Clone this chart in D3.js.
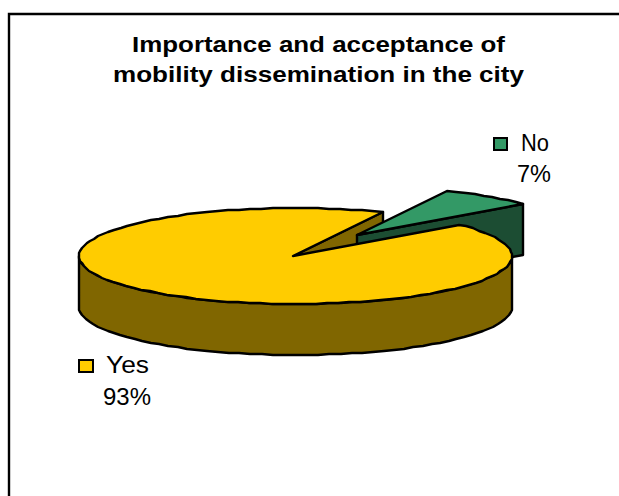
<!DOCTYPE html>
<html>
<head>
<meta charset="utf-8">
<script src="https://cdn.jsdelivr.net/npm/d3@7"></script>
<style>
html, body { margin: 0; padding: 0; background: #fff; }
svg { display: block; }
text { font-family: "Liberation Sans", Arial, sans-serif; fill: #000; }
</style>
</head>
<body>
<svg id="chart" width="619" height="496"></svg>
<script>
const categories = ["Yes", "No"];
const values = [93, 7];
const percentLabels = ["93%", "7%"];
const topColors = ["#FFCC00", "#339966"];
const wallColors = ["#806600", "#1C4D33"];
const titleLines = ["Importance and acceptance of", "mobility dissemination in the city"];

const svg = d3.select("#chart");
const deg = Math.PI / 180;

// Pie geometry: a flattened disc with the smaller slice pulled out.
const center = { x: 295.5, y: 256 };
const tip = { x: 293, y: 256 };
const radiusX = 216.5, radiusY = 48, depth = 51;
const explode = [{ x: 0, y: 0 }, { x: 64, y: -21 }];
const strokeWidth = 2.4;

// The frame shows only its left and top sides.
svg.append("path")
  .attr("d", d3.line()([[9, 496], [9, 14], [619, 14]]))
  .attr("fill", "none").attr("stroke", "#000").attr("stroke-width", 2.4);

const titleLayout = [{ y: 52, w: 373 }, { y: 82, w: 411 }];
svg.append("g").selectAll("text").data(titleLines).join("text")
  .attr("x", 318.5).attr("y", (d, i) => titleLayout[i].y)
  .attr("text-anchor", "middle")
  .attr("font-size", 22).attr("font-weight", "bold")
  .attr("textLength", (d, i) => titleLayout[i].w)
  .attr("lengthAdjust", "spacingAndGlyphs")
  .text(d => d);

const slices = d3.pie().sort(null).value(d => d)
  .startAngle(49 * deg).endAngle(409 * deg)(values);

// Angle is measured clockwise from the top of the disc; whole-pixel
// vertices give the outline its slightly stepped edge.
const rim = (a, o, dz = 0) => [
  Math.round(center.x + o.x + radiusX * Math.sin(a)),
  Math.round(center.y + o.y + dz - radiusY * Math.cos(a))
];
const arcPoints = (a0, a1, o, dz = 0) => {
  const n = Math.max(2, Math.ceil((a1 - a0) / (3 * deg)));
  return d3.range(n + 1).map(i => rim(a0 + (a1 - a0) * i / n, o, dz));
};
const apex = (o, dz = 0) => [tip.x + o.x, tip.y + o.y + dz];
const polyPath = d3.line().curve(d3.curveLinear);
const shape = (pts, fill, g) => g.append("path")
  .attr("d", polyPath(pts) + "Z")
  .attr("fill", fill).attr("stroke", "#000")
  .attr("stroke-width", strokeWidth).attr("stroke-linejoin", "round");

const pie = svg.append("g");
const [yes, no] = slices;
const oYes = explode[0], oNo = explode[1];

// Cut face of the large slice, seen through the gap.
shape([apex(oYes), rim(no.startAngle, oYes), rim(no.startAngle, oYes, depth), apex(oYes, depth)], wallColors[0], pie);

// Pulled-out slice: its wall first, then its top.
shape([apex(oNo), rim(no.endAngle, oNo), rim(no.endAngle, oNo, depth), apex(oNo, depth)], wallColors[1], pie);
shape([apex(oNo), ...arcPoints(no.startAngle, no.endAngle, oNo)], topColors[1], pie);

// Outer wall of the large slice, visible along the front of the disc.
const frontStart = 90 * deg, frontEnd = 270 * deg;
shape([...arcPoints(frontStart, frontEnd, oYes),
       ...arcPoints(frontStart, frontEnd, oYes, depth).reverse()], wallColors[0], pie);

// Top of the large slice.
shape([apex(oYes), ...arcPoints(yes.startAngle, yes.endAngle, oYes)], topColors[0], pie);

// Legend keys with their percentage labels.
const legend = [
  { key: [79, 360, 14, 12], name: [106, 373, 43], pct: [103, 405, 48] },
  { key: [494, 138, 13, 12], name: [521, 151, 28], pct: [517, 182, 34] }
];
const labels = svg.append("g");
legend.forEach((l, i) => {
  labels.append("rect")
    .attr("x", l.key[0]).attr("y", l.key[1]).attr("width", l.key[2]).attr("height", l.key[3])
    .attr("fill", topColors[i]).attr("stroke", "#000").attr("stroke-width", 2);
  labels.append("text").attr("x", l.name[0]).attr("y", l.name[1])
    .attr("font-size", 23).attr("textLength", l.name[2]).attr("lengthAdjust", "spacingAndGlyphs")
    .text(categories[i]);
  labels.append("text").attr("x", l.pct[0]).attr("y", l.pct[1])
    .attr("font-size", 23).attr("textLength", l.pct[2]).attr("lengthAdjust", "spacingAndGlyphs")
    .text(percentLabels[i]);
});
</script>
</body>
</html>
